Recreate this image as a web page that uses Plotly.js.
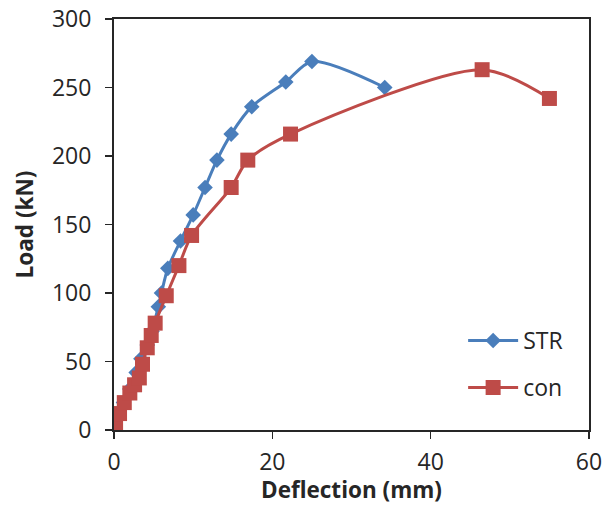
<!DOCTYPE html>
<html>
<head>
<meta charset="utf-8">
<script src="https://cdn.plot.ly/plotly-3.0.1.min.js"></script>
<style>html,body{margin:0;padding:0;background:#fff;}#chart{width:611px;height:505px;}</style>
</head>
<body>
<div id="chart"></div>
<script>
var strDeflection = [0, 0.5, 1.2, 2.0, 2.8, 3.4, 4.2, 4.8, 5.6, 6.0, 6.8, 8.4, 10.0, 11.5, 13.0, 14.8, 17.4, 21.7, 25.0, 34.2];
var strLoad       = [0, 10, 20, 30, 42, 52, 62, 72, 90, 100, 118, 138, 157, 177, 197, 216, 236, 254, 269, 250];
var conDeflection = [0, 0.2, 0.7, 1.3, 2.0, 2.6, 3.2, 3.6, 4.2, 4.7, 5.2, 6.6, 8.2, 9.8, 14.8, 16.9, 22.3, 46.5, 55.0];
var conLoad       = [0, 5, 12, 20, 27, 33, 38, 48, 60, 69, 78, 98, 120, 142, 177, 197, 216, 263, 242];
var seriesNames = ['STR', 'con'];
var xTitle = 'Deflection (mm)';
var yTitle = 'Load (kN)';

var font = '"Open Sans", "Noto Sans", sans-serif';
var traces = [
  {x: strDeflection, y: strLoad, name: seriesNames[0], type: 'scatter', mode: 'lines+markers', legendgroup: 'a',
   line: {color: '#4a7ebb', width: 3, shape: 'spline', smoothing: 0.8},
   marker: {symbol: 'diamond', size: 12, color: '#4a7ebb'}},
  {x: conDeflection, y: conLoad, name: seriesNames[1], type: 'scatter', mode: 'lines+markers', legendgroup: 'b',
   line: {color: '#be4b48', width: 3, shape: 'spline', smoothing: 0.8},
   marker: {symbol: 'square', size: 15, color: '#be4b48'}}
];
var axisCommon = {
  showgrid: false, zeroline: false, showline: true, mirror: true,
  linecolor: '#262626', linewidth: 2, ticks: 'outside', ticklen: 7, tickwidth: 1.5, tickcolor: '#262626',
  tickfont: {family: font, size: 23, color: '#262626'}
};
var layout = {
  width: 611, height: 505,
  margin: {l: 114, r: 22, t: 19, b: 75},
  paper_bgcolor: '#fff', plot_bgcolor: '#fff',
  showlegend: true,
  legend: {x: 0.735, y: 0.27, xanchor: 'left', yanchor: 'top', bgcolor: 'rgba(0,0,0,0)',
           font: {family: font, size: 23, color: '#262626'}, tracegroupgap: 14, itemwidth: 50},
  xaxis: Object.assign({}, axisCommon, {range: [0, 60], dtick: 20, ticklabelstandoff: 3,
    title: {text: '<b>' + xTitle + '</b>', font: {family: font, size: 22.5, color: '#262626'}, standoff: 0}}),
  yaxis: Object.assign({}, axisCommon, {range: [0, 300], dtick: 50, ticklabelstandoff: 9,
    title: {text: '<b>' + yTitle + '</b>', font: {family: font, size: 22.5, color: '#262626'}, standoff: 12}})
};
Plotly.newPlot('chart', traces, layout, {staticPlot: true});
</script>
</body>
</html>
